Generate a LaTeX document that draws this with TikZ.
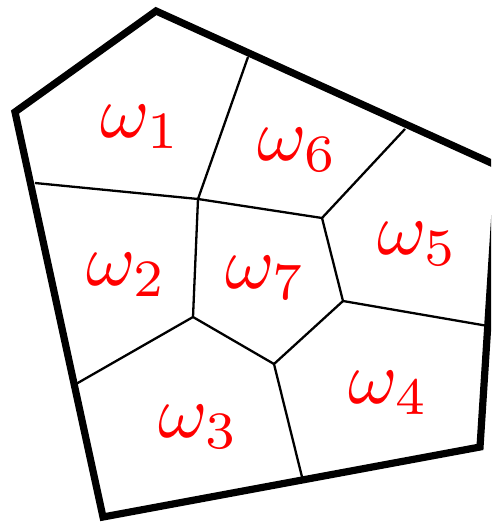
\documentclass[tikz,border=0pt]{standalone}
\begin{document}
\begin{tikzpicture}[x=1pt,y=-1pt,
  outer/.style={line width=7.2pt,line join=miter},
  inner/.style={line width=2.3pt},
  lab/.style={text=red,anchor=base west,inner sep=0pt,font=\normalsize,scale=7.5}]
\useasboundingbox (0,0) rectangle (491,524);
\clip (0,0) rectangle (491,524);
% outer boundary vertices
\coordinate (P1) at (156,11);
\coordinate (P2) at (498,166);
\coordinate (P3) at (480,447);
\coordinate (P4) at (103,517);
\coordinate (P5) at (15,112);
% boundary points of inner edges
\coordinate (T1) at (248,57);
\coordinate (T2) at (405,129);
\coordinate (R1) at (488,326);
\coordinate (B1) at (302,477);
\coordinate (L2) at (76,384);
\coordinate (L1) at (35,183);
% inner vertices
\coordinate (A) at (198,199);
\coordinate (B) at (322,218);
\coordinate (C) at (343,301);
\coordinate (D) at (274,364);
\coordinate (E) at (193,317);
\draw[inner] (T1) -- (A) -- (L1);
\draw[inner] (A) -- (B) -- (T2);
\draw[inner] (B) -- (C) -- (R1);
\draw[inner] (C) -- (D) -- (B1);
\draw[inner] (D) -- (E) -- (L2);
\draw[inner] (A) -- (E);
\draw[outer] (P1) -- (P2) -- (P3) -- (P4) -- (P5) -- cycle;
% labels
\node[lab] (w1) at (99,137) {$\omega_1$};
\node[lab] (w6) at (256,160) {$\omega_6$};
\node[lab] (w5) at (376,254) {$\omega_5$};
\node[lab] (w7) at (224,288) {$\omega_7$};
\node[lab] (w2) at (85,285) {$\omega_2$};
\node[lab] (w3) at (157,437) {$\omega_3$};
\node[lab] (w4) at (347,403) {$\omega_4$};
\end{tikzpicture}
\end{document}
